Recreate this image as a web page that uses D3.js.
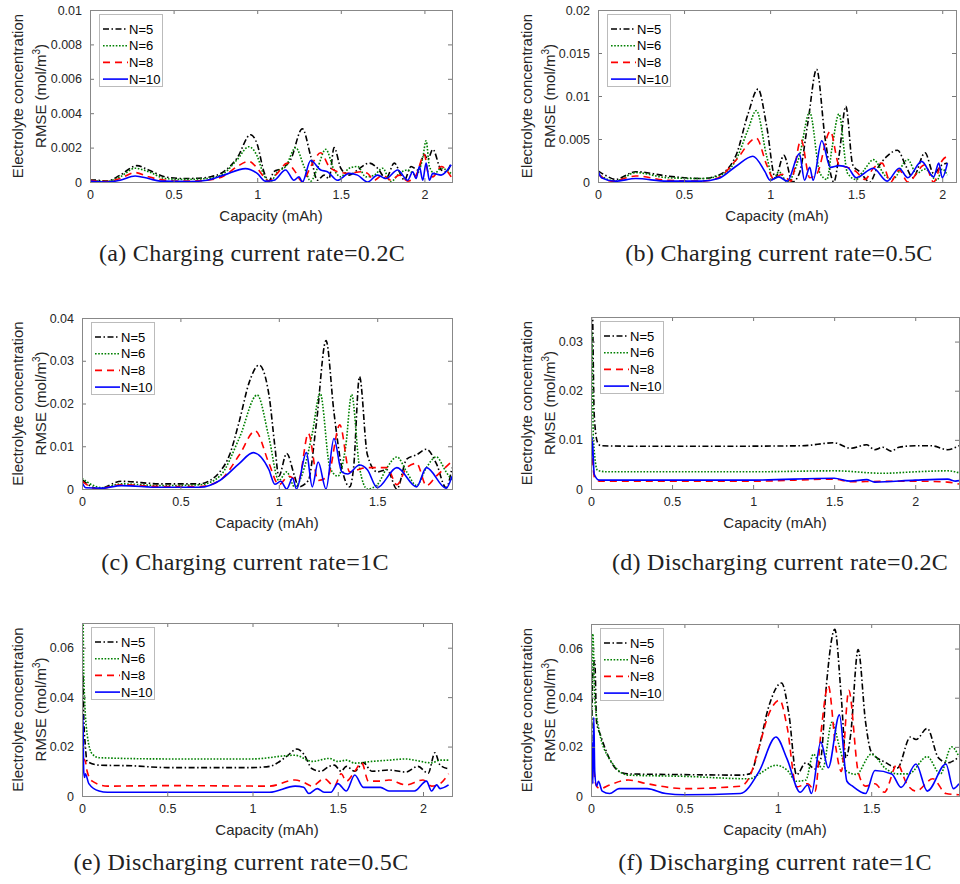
<!DOCTYPE html>
<html>
<head>
<meta charset="utf-8">
<script src="https://cdn.jsdelivr.net/npm/d3@7"></script>
<style>
  body { margin: 0; background: #fff; }
  svg { display: block; }
  .tick text { font-family: "Liberation Sans", Arial, sans-serif; font-size: 12.5px; fill: #262626; }
  .lbl { font-family: "Liberation Sans", Arial, sans-serif; font-size: 15px; fill: #262626; }
  .leg { font-family: "Liberation Sans", Arial, sans-serif; font-size: 13px; fill: #000; }
  .cap { font-family: "Liberation Serif", "Times New Roman", serif; font-size: 24px; letter-spacing: 0.3px; fill: #222; }
</style>
</head>
<body>
<script>
// series names / styles
var seriesNames = ["N=5", "N=6", "N=8", "N=10"];
var xTickValues = [0, 0.5, 1, 1.5, 2];

// (a) charging 0.2C  [capacity mAh, RMSE]
var aN5 = [[0,0.00012],[0.05,0.0001],[0.1,0.00005],[0.18,0.0004],[0.28,0.00095],[0.35,0.0007],[0.45,0.0003],[0.55,0.0002],[0.65,0.00022],[0.72,0.0003],[0.8,0.0006],[0.88,0.0014],[0.96,0.00275],[1.0,0.0022],[1.04,0.0006],[1.07,0.00005],[1.1,0.0006],[1.15,0.0008],[1.2,0.0013],[1.27,0.0031],[1.32,0.0015],[1.36,0.0001],[1.4,0.0004],[1.43,0.0002],[1.46,0.002],[1.5,0.0008],[1.55,0.0004],[1.6,0.0007],[1.67,0.0011],[1.72,0.0008],[1.77,0.0002],[1.82,0.0011],[1.86,0.0004],[1.88,0.0001],[1.92,0.0009],[1.96,0.0007],[2.0,0.0016],[2.02,0.0013],[2.05,0.0019],[2.1,0.0007],[2.13,0.0006],[2.16,0.0011]];
var aN6 = [[0,0.0001],[0.1,0.00003],[0.18,0.0003],[0.27,0.0008],[0.35,0.0006],[0.45,0.0002],[0.55,0.00015],[0.7,0.0002],[0.8,0.0005],[0.88,0.0013],[0.95,0.00205],[1.0,0.0015],[1.04,0.0004],[1.08,0.00002],[1.12,0.0006],[1.17,0.0009],[1.23,0.002],[1.28,0.0009],[1.32,0.00005],[1.36,0.0008],[1.41,0.0019],[1.46,0.0007],[1.5,0.0003],[1.55,0.0008],[1.6,0.0009],[1.65,0.0003],[1.7,0.0004],[1.75,0.0008],[1.8,0.00002],[1.85,0.0005],[1.9,0.0007],[1.95,0.0004],[1.99,0.0014],[2.01,0.0024],[2.03,0.0009],[2.06,0.0005],[2.1,0.0008],[2.16,0.0005]];
var aN8 = [[0,0.0001],[0.1,0.00003],[0.18,0.0002],[0.27,0.00055],[0.35,0.0003],[0.45,0.0001],[0.55,0.00005],[0.7,0.0001],[0.8,0.00035],[0.88,0.0009],[0.95,0.0012],[1.0,0.0008],[1.04,0.0003],[1.07,0.00005],[1.12,0.0005],[1.18,0.0011],[1.22,0.0007],[1.27,0.00002],[1.32,0.0009],[1.38,0.0017],[1.43,0.0009],[1.48,0.0006],[1.55,0.0005],[1.62,0.0006],[1.66,0.0005],[1.7,0.0001],[1.75,0.0004],[1.8,0.0001],[1.85,0.0004],[1.9,0.00005],[1.95,0.0004],[2.0,0.0016],[2.02,0.0006],[2.05,0.0003],[2.1,0.0009],[2.16,0.0003]];
var aN10 = [[0,0.00005],[0.1,0.0],[0.18,0.0001],[0.27,0.00035],[0.35,0.0002],[0.42,0.00005],[0.6,0.00003],[0.7,0.0001],[0.8,0.0004],[0.93,0.00078],[1.0,0.0005],[1.05,0.00005],[1.1,0.0001],[1.17,0.0007],[1.22,0.0001],[1.25,0.0003],[1.27,0.0],[1.32,0.00125],[1.38,0.0007],[1.42,0.0006],[1.48,0.0001],[1.55,0.0005],[1.6,0.0004],[1.66,0.0],[1.72,0.0004],[1.77,0.0002],[1.84,0.0007],[1.9,0.0001],[1.93,0.0006],[1.95,0.0002],[1.97,0.0009],[1.99,0.0001],[2.01,0.0011],[2.03,0.0001],[2.05,0.0005],[2.1,0.0004],[2.16,0.001]];

// (b) charging 0.5C
var bN5 = [[0,0.0013],[0.05,0.0007],[0.1,0.0003],[0.22,0.0012],[0.4,0.0007],[0.6,0.0004],[0.7,0.0008],[0.8,0.003],[0.87,0.0078],[0.93,0.0108],[0.98,0.0065],[1.03,0.0005],[1.08,0.0031],[1.13,0.0],[1.17,0.001],[1.22,0.007],[1.27,0.0131],[1.32,0.005],[1.37,0.0],[1.4,0.003],[1.44,0.0088],[1.48,0.002],[1.52,0.0012],[1.58,0.0],[1.62,0.0015],[1.68,0.003],[1.74,0.0037],[1.79,0.0018],[1.83,0.0005],[1.9,0.0034],[1.95,0.001],[2.0,0.002],[2.03,0.0022]];
var bN6 = [[0,0.0009],[0.1,0.0001],[0.22,0.0011],[0.4,0.0005],[0.6,0.0004],[0.7,0.0007],[0.8,0.0025],[0.87,0.006],[0.92,0.0083],[0.98,0.003],[1.02,0.0003],[1.05,0.0012],[1.1,0.0],[1.17,0.003],[1.23,0.0081],[1.29,0.001],[1.33,0.0003],[1.36,0.004],[1.4,0.0079],[1.45,0.001],[1.5,0.0003],[1.55,0.0015],[1.6,0.0026],[1.67,0.0007],[1.71,0.0003],[1.8,0.0026],[1.85,0.001],[1.9,0.0015],[1.97,0.0002],[2.0,0.0015],[2.03,0.0008]];
var bN8 = [[0,0.0009],[0.08,0.0001],[0.22,0.0007],[0.4,0.0002],[0.6,0.0001],[0.7,0.0005],[0.8,0.0025],[0.92,0.0051],[0.98,0.002],[1.02,0.0004],[1.07,0.0009],[1.12,0.0001],[1.18,0.0049],[1.23,0.0005],[1.27,0.0009],[1.35,0.0059],[1.4,0.002],[1.45,0.0017],[1.5,0.0012],[1.55,0.0003],[1.6,0.0016],[1.65,0.0022],[1.7,0.0],[1.75,0.0014],[1.8,0.0],[1.9,0.002],[1.95,0.0],[2.0,0.0025],[2.03,0.003]];
var bN10 = [[0,0.0013],[0.02,0.0005],[0.1,0.0001],[0.22,0.0004],[0.4,0.0001],[0.6,0.0001],[0.7,0.0004],[0.8,0.0018],[0.9,0.003],[0.97,0.0012],[1.0,0.0002],[1.05,0.0006],[1.1,0.0001],[1.17,0.0033],[1.2,0.0002],[1.23,0.0017],[1.25,0.0002],[1.3,0.0048],[1.35,0.0017],[1.4,0.0019],[1.45,0.0017],[1.5,0.0005],[1.6,0.0016],[1.68,0.0001],[1.75,0.0016],[1.8,0.0005],[1.88,0.0024],[1.95,0.0006],[1.98,0.0022],[2.0,0.0005],[2.03,0.0022]];

// (c) charging 1C
var cN5 = [[0,0.0022],[0.05,0.0005],[0.08,0.0],[0.2,0.0018],[0.4,0.0012],[0.6,0.0012],[0.65,0.002],[0.7,0.004],[0.75,0.008],[0.8,0.016],[0.85,0.025],[0.9,0.029],[0.95,0.022],[0.98,0.01],[1.0,0.003],[1.04,0.0083],[1.08,0.003],[1.1,0.0005],[1.15,0.002],[1.19,0.015],[1.24,0.0347],[1.28,0.018],[1.32,0.005],[1.36,0.0005],[1.38,0.005],[1.41,0.0263],[1.45,0.008],[1.5,0.004],[1.55,0.0045],[1.6,0.0],[1.65,0.007],[1.7,0.008],[1.75,0.0093],[1.8,0.006],[1.85,0.0003],[1.88,0.005]];
var cN6 = [[0,0.0025],[0.05,0.001],[0.1,0.0003],[0.2,0.0012],[0.4,0.0008],[0.6,0.001],[0.7,0.003],[0.8,0.012],[0.89,0.022],[0.95,0.012],[1.0,0.002],[1.04,0.004],[1.08,0.0005],[1.13,0.005],[1.17,0.013],[1.21,0.0224],[1.26,0.005],[1.3,0.003],[1.34,0.01],[1.37,0.0221],[1.41,0.005],[1.45,0.0],[1.5,0.001],[1.55,0.005],[1.6,0.0075],[1.65,0.004],[1.7,0.0008],[1.75,0.005],[1.8,0.0075],[1.85,0.004],[1.88,0.002]];
var cN8 = [[0,0.0018],[0.08,0.0],[0.2,0.001],[0.4,0.0006],[0.6,0.0006],[0.7,0.002],[0.8,0.008],[0.88,0.0136],[0.95,0.006],[1.0,0.001],[1.05,0.003],[1.1,0.002],[1.15,0.013],[1.2,0.002],[1.25,0.003],[1.31,0.015],[1.36,0.004],[1.4,0.0045],[1.45,0.005],[1.55,0.005],[1.6,0.001],[1.65,0.005],[1.7,0.006],[1.75,0.0008],[1.8,0.003],[1.88,0.0065]];
var cN10 = [[0,0.0015],[0.02,0.0003],[0.1,0.0002],[0.2,0.0008],[0.4,0.0004],[0.6,0.0004],[0.7,0.002],[0.8,0.006],[0.87,0.0085],[0.95,0.0045],[0.98,0.0011],[1.01,0.0018],[1.04,0.0],[1.07,0.0025],[1.09,0.0],[1.14,0.0085],[1.17,0.0005],[1.2,0.0063],[1.24,0.0],[1.28,0.0118],[1.32,0.004],[1.35,0.0035],[1.41,0.0056],[1.45,0.0045],[1.5,0.0003],[1.6,0.005],[1.7,0.0005],[1.75,0.005],[1.85,0.0002],[1.88,0.003]];

// (d) discharging 0.2C
var dN5 = [[0,0.0005],[0.004,0.045],[0.02,0.015],[0.04,0.0095],[0.06,0.0088],[0.3,0.0087],[0.8,0.0087],[1.3,0.0088],[1.5,0.0094],[1.6,0.0083],[1.7,0.009],[1.75,0.008],[1.8,0.0085],[1.85,0.0077],[1.9,0.0085],[2.0,0.0088],[2.1,0.0088],[2.2,0.008],[2.25,0.0085],[2.27,0.0088]];
var dN6 = [[0,0.0],[0.004,0.032],[0.015,0.01],[0.04,0.0038],[0.1,0.0035],[1.0,0.0035],[1.5,0.0037],[1.8,0.0032],[2.0,0.0035],[2.2,0.0037],[2.27,0.0033]];
var dN8 = [[0,0.0],[0.006,0.008],[0.02,0.0025],[0.05,0.0016],[1.0,0.0016],[1.5,0.002],[1.6,0.0015],[2.0,0.0016],[2.2,0.0014],[2.27,0.001]];
var dN10 = [[0,0.0],[0.007,0.0105],[0.02,0.003],[0.05,0.0018],[1.0,0.0018],[1.5,0.0022],[1.6,0.0016],[1.7,0.0019],[1.75,0.0014],[2.0,0.0018],[2.2,0.002],[2.25,0.0016],[2.27,0.0017]];

// (e) discharging 0.5C
var eN5 = [[0,0.001],[0.005,0.05],[0.01,0.033],[0.02,0.02],[0.03,0.014],[0.1,0.0125],[0.3,0.0122],[0.5,0.0115],[1.0,0.0115],[1.1,0.012],[1.2,0.016],[1.26,0.019],[1.3,0.017],[1.35,0.011],[1.4,0.01],[1.45,0.012],[1.48,0.0125],[1.52,0.01],[1.55,0.012],[1.6,0.01],[1.65,0.0135],[1.7,0.01],[1.8,0.0105],[1.9,0.0097],[1.97,0.012],[2.03,0.0092],[2.07,0.0175],[2.1,0.0125],[2.15,0.011]];
var eN6 = [[0,0.0],[0.005,0.08],[0.01,0.05],[0.03,0.025],[0.06,0.017],[0.1,0.0155],[0.5,0.015],[1.0,0.015],[1.25,0.0165],[1.35,0.014],[1.45,0.0152],[1.5,0.014],[1.55,0.0145],[1.6,0.0133],[1.7,0.014],[1.8,0.0145],[1.9,0.015],[1.95,0.0145],[2.05,0.0134],[2.1,0.0145],[2.15,0.0145]];
var eN8 = [[0,0.005],[0.01,0.015],[0.02,0.014],[0.03,0.01],[0.06,0.006],[0.15,0.004],[0.5,0.0042],[1.1,0.004],[1.25,0.0065],[1.3,0.0055],[1.35,0.004],[1.42,0.007],[1.48,0.004],[1.52,0.009],[1.55,0.006],[1.6,0.01],[1.64,0.0135],[1.68,0.006],[1.75,0.006],[1.8,0.0065],[1.9,0.0045],[2.0,0.0065],[2.05,0.004],[2.1,0.005],[2.15,0.009]];
var eN10 = [[0,0.0],[0.005,0.033],[0.01,0.01],[0.015,0.0075],[0.02,0.009],[0.04,0.005],[0.1,0.002],[0.15,0.0015],[1.1,0.0015],[1.25,0.004],[1.3,0.0035],[1.33,0.001],[1.38,0.003],[1.42,0.0015],[1.46,0.0015],[1.5,0.005],[1.55,0.002],[1.6,0.0085],[1.65,0.0035],[1.75,0.0035],[1.8,0.002],[1.95,0.002],[2.02,0.006],[2.05,0.002],[2.08,0.0045],[2.1,0.003],[2.15,0.0045]];

// (f) discharging 1C
var fN5 = [[0,0.002],[0.01,0.05],[0.02,0.055],[0.03,0.03],[0.05,0.025],[0.1,0.015],[0.15,0.01],[0.2,0.009],[0.5,0.0087],[0.8,0.0085],[0.85,0.009],[0.9,0.02],[0.95,0.036],[1.02,0.046],[1.06,0.033],[1.1,0.0086],[1.15,0.0135],[1.2,0.011],[1.23,0.015],[1.26,0.045],[1.305,0.0678],[1.34,0.04],[1.365,0.0155],[1.39,0.025],[1.43,0.0596],[1.47,0.03],[1.5,0.018],[1.58,0.0135],[1.64,0.0114],[1.71,0.024],[1.74,0.023],[1.8,0.0275],[1.86,0.0155],[1.91,0.0135],[1.97,0.016]];
var fN6 = [[0,0.0],[0.01,0.066],[0.02,0.04],[0.04,0.028],[0.1,0.015],[0.2,0.0085],[0.5,0.008],[0.85,0.007],[0.9,0.009],[0.99,0.0125],[1.05,0.0105],[1.1,0.006],[1.15,0.0065],[1.19,0.017],[1.24,0.011],[1.29,0.03],[1.33,0.02],[1.37,0.01],[1.42,0.0088],[1.5,0.017],[1.58,0.011],[1.64,0.009],[1.7,0.009],[1.8,0.016],[1.87,0.009],[1.93,0.02],[1.97,0.016]];
var fN8 = [[0,0.0],[0.01,0.015],[0.02,0.007],[0.03,0.004],[0.05,0.003],[0.1,0.0045],[0.2,0.0065],[0.3,0.005],[0.5,0.003],[0.8,0.004],[0.85,0.008],[0.9,0.02],[0.95,0.033],[1.01,0.039],[1.05,0.028],[1.1,0.0037],[1.16,0.005],[1.2,0.002],[1.23,0.025],[1.27,0.045],[1.31,0.02],[1.34,0.01],[1.38,0.043],[1.43,0.01],[1.47,0.004],[1.52,0.005],[1.57,0.0015],[1.64,0.013],[1.69,0.005],[1.74,0.002],[1.83,0.007],[1.9,0.001],[1.97,0.0005]];
var fN10 = [[0,0.01],[0.005,0.022],[0.01,0.005],[0.015,0.032],[0.02,0.01],[0.03,0.004],[0.04,0.006],[0.06,0.002],[0.1,0.001],[0.15,0.003],[0.3,0.003],[0.4,0.001],[0.5,0.0005],[0.8,0.001],[0.9,0.01],[0.99,0.024],[1.05,0.015],[1.12,0.0015],[1.16,0.0045],[1.18,0.001],[1.23,0.022],[1.27,0.0115],[1.33,0.033],[1.37,0.006],[1.4,0.004],[1.47,0.001],[1.52,0.0104],[1.61,0.009],[1.66,0.0035],[1.74,0.013],[1.8,0.002],[1.9,0.013],[1.94,0.003],[1.97,0.005]];

// captions
var captions = ["(a) Charging current rate=0.2C", "(b) Charging current rate=0.5C", "(c) Charging current rate=1C",
                "(d) Discharging current rate=0.2C", "(e) Discharging current rate=0.5C", "(f) Discharging current rate=1C"];

var colors = ["#000000", "#008000", "#ff0000", "#0000ff"];
var dashes = ["6,2.5,1.5,2.5", "1.6,1.6", "7,5", null];

//panel layout
var panels = [
    {left: 90,  right: 452, top: 10,  bottom: 182, xmax: 2.165, ymax: 0.01,  yStep: 0.002, labOff: 72, capX: 252, capY: 261, data: [aN5, aN6, aN8, aN10]},
    {left: 598, right: 956, top: 10,  bottom: 182, xmax: 2.08,  ymax: 0.02,  yStep: 0.005, labOff: 71, capX: 779, capY: 261, data: [bN5, bN6, bN8, bN10]},
    {left: 82,  right: 452, top: 318, bottom: 489, xmax: 1.88,  ymax: 0.04,  yStep: 0.01,  labOff: 64, capX: 245, capY: 570, data: [cN5, cN6, cN8, cN10]},
    {left: 591, right: 959, top: 317, bottom: 489, xmax: 2.27,  ymax: 0.035, yStep: 0.01,  labOff: 64, capX: 780, capY: 570, data: [dN5, dN6, dN8, dN10]},
    {left: 82,  right: 452, top: 623, bottom: 796, xmax: 2.17,  ymax: 0.07,  yStep: 0.02,  labOff: 64, capX: 241, capY: 870, data: [eN5, eN6, eN8, eN10]},
    {left: 591, right: 959, top: 624, bottom: 796, xmax: 1.97,  ymax: 0.07,  yStep: 0.02,  labOff: 64, capX: 775, capY: 870, data: [fN5, fN6, fN8, fN10]}
];

var svg = d3.select("body").append("svg")
    .attr("width", 960)
    .attr("height", 884);

svg.append("rect").attr("width", 960).attr("height", 884).attr("fill", "#fff");

function fmt(v){
    return v === 0 ? "0" : String(+v.toFixed(4));
}

panels.forEach(function(p, i){
    var x = d3.scaleLinear().domain([0, p.xmax]).range([p.left, p.right]);
    var y = d3.scaleLinear().domain([0, p.ymax]).range([p.bottom, p.top]);

    var yTicks = d3.range(0, p.ymax + 1e-9, p.yStep);
    var xTicks = xTickValues.filter(function(t){ return t <= p.xmax; });

    var g = svg.append("g");

    //clip for the curves
    g.append("clipPath").attr("id", "clip" + i)
        .append("rect")
        .attr("x", p.left).attr("y", p.top)
        .attr("width", p.right - p.left).attr("height", p.bottom - p.top);

    var line = d3.line()
        .x(function(d){ return x(d[0]); })
        .y(function(d){ return y(d[1]); })
        .curve(d3.curveMonotoneX);

    var lines = g.append("g").attr("clip-path", "url(#clip" + i + ")");
    p.data.forEach(function(s, k){
        lines.append("path")
            .datum(s)
            .attr("d", line)
            .attr("fill", "none")
            .attr("stroke", colors[k])
            .attr("stroke-width", 1.6)
            .attr("stroke-dasharray", dashes[k]);
    });

    //axes (ticks inward, box drawn separately)
    var ax = g.append("g").attr("transform", "translate(0," + p.bottom + ")")
        .call(d3.axisBottom(x).tickValues(xTicks).tickSize(-4).tickPadding(8).tickFormat(fmt));
    var ay = g.append("g").attr("transform", "translate(" + p.left + ",0)")
        .call(d3.axisLeft(y).tickValues(yTicks).tickSize(-4).tickPadding(8).tickFormat(fmt));
    var axt = g.append("g").attr("transform", "translate(0," + p.top + ")")
        .call(d3.axisTop(x).tickValues(xTicks).tickSize(-4).tickFormat(""));
    var ayr = g.append("g").attr("transform", "translate(" + p.right + ",0)")
        .call(d3.axisRight(y).tickValues(yTicks).tickSize(-4).tickFormat(""));
    [ax, ay, axt, ayr].forEach(function(a){
        a.select(".domain").remove();
        a.selectAll(".tick line").attr("stroke", "#777");
    });

    g.append("rect")
        .attr("x", p.left + 0.5).attr("y", p.top + 0.5)
        .attr("width", p.right - p.left).attr("height", p.bottom - p.top)
        .attr("fill", "none").attr("stroke", "#888").attr("stroke-width", 1);

    //axis labels
    g.append("text").attr("class", "lbl")
        .attr("x", (p.left + p.right) / 2).attr("y", p.bottom + 39)
        .attr("text-anchor", "middle")
        .text("Capacity (mAh)");

    var cy = (p.top + p.bottom) / 2;
    g.append("text").attr("class", "lbl")
        .attr("transform", "translate(" + (p.left - p.labOff + 5) + "," + cy + ") rotate(-90)")
        .attr("text-anchor", "middle")
        .text("Electrolyte concentration");
    var t2 = g.append("text").attr("class", "lbl")
        .attr("transform", "translate(" + (p.left - p.labOff + 28) + "," + cy + ") rotate(-90)")
        .attr("text-anchor", "middle");
    t2.append("tspan").text("RMSE (mol/m");
    t2.append("tspan").attr("dy", -6).style("font-size", "10px").text("3");
    t2.append("tspan").attr("dy", 6).text(")");

    //legend
    var lx = p.left + 9, ly = p.top + 4;
    var leg = g.append("g").attr("transform", "translate(" + lx + "," + ly + ")");
    leg.append("rect")
        .attr("x", 0.5).attr("y", 0.5).attr("width", 63).attr("height", 72)
        .attr("fill", "#fff").attr("stroke", "#bbb");
    seriesNames.forEach(function(n, k){
        var yy = 15 + k * 16.7;
        leg.append("line")
            .attr("x1", 4).attr("x2", 29).attr("y1", yy).attr("y2", yy)
            .attr("stroke", colors[k]).attr("stroke-width", 1.6)
            .attr("stroke-dasharray", dashes[k]);
        leg.append("text").attr("class", "leg")
            .attr("x", 30).attr("y", yy + 4.5)
            .text(n);
    });

    //caption
    svg.append("text").attr("class", "cap")
        .attr("x", p.capX).attr("y", p.capY)
        .attr("text-anchor", "middle")
        .text(captions[i]);
});
</script>
</body>
</html>
